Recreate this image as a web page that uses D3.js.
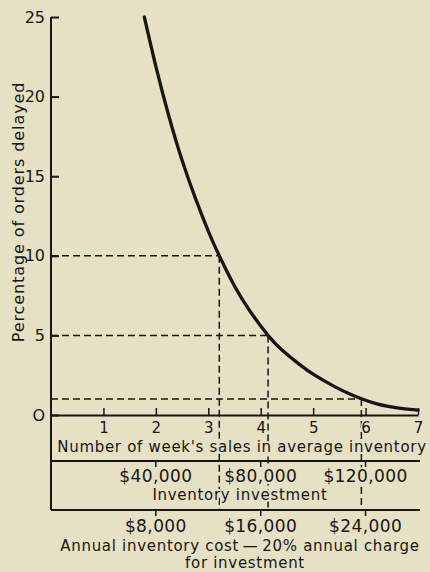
<!DOCTYPE html>
<html>
<head>
<meta charset="utf-8">
<script src="https://cdn.jsdelivr.net/npm/d3@7"></script>
<style>
  html, body { margin: 0; padding: 0; background: #e6e0c5; }
  svg { display: block; }
  text { font-family: "DejaVu Sans", sans-serif; fill: #161616; }
</style>
</head>
<body>
<div id="chart"></div>
<script>
// Delay curve: percentage of orders delayed vs. weeks of sales held in inventory
const weeks = [1.78, 2.0, 2.25, 2.5, 2.75, 3.0, 3.21, 3.5, 3.8, 4.14, 4.4, 4.75, 5.03, 5.4, 5.7, 5.92, 6.2, 6.46, 6.75, 7.0];
const delayed = [25.0, 21.9, 18.75, 16.0, 13.65, 11.55, 10.0, 8.1, 6.5, 5.0, 4.1, 3.15, 2.5, 1.8, 1.32, 1.02, 0.71, 0.52, 0.38, 0.3];

// Reference levels read across to the curve and down to the cost scales
const refLevels = [10, 5, 1];
const refWeeks = [3.21, 4.14, 5.92];

// Axis ticks
const yTicks = [0, 5, 10, 15, 20, 25];
const yTickLabels = ["O", "5", "10", "15", "20", "25"];
const xTicks = [1, 2, 3, 4, 5, 6, 7];

// Money scales beneath the week axis (same week positions)
const investWeeks = [2, 4, 6];
const investLabels = ["$40,000", "$80,000", "$120,000"];
const costWeeks = [2, 4, 6];
const costLabels = ["$8,000", "$16,000", "$24,000"];

// Text
const yTitle = "Percentage of orders delayed";
const xTitle = "Number of week's sales in average inventory";
const investTitle = "Inventory investment";
const costTitle1 = "Annual inventory cost\u2009\u2014\u200920% annual charge";
const costTitle2 = "for investment";

const W = 430, H = 572;
const bg = "#e6e0c5";
const ink = "#161616";

const svg = d3.select("#chart").append("svg")
  .attr("width", W).attr("height", H);

svg.append("rect").attr("width", W).attr("height", H).attr("fill", bg);

const x = d3.scaleLinear().domain([0, 7]).range([51, 418]);
const y = d3.scaleLinear().domain([0, 25]).range([415, 17]);

const band1 = 461;   // line under the week-axis title
const band2 = 510;   // line under the investment scale
const bandRight = 420;

// dashed reference lines
const dash = svg.append("g")
  .attr("stroke", ink).attr("stroke-width", 1.5)
  .attr("stroke-dasharray", "7,4").attr("fill", "none");
refLevels.forEach((lv, i) => {
  dash.append("line")
    .attr("x1", x(0)).attr("x2", x(refWeeks[i]))
    .attr("y1", y(lv)).attr("y2", y(lv));
  dash.append("line")
    .attr("x1", x(refWeeks[i])).attr("x2", x(refWeeks[i]))
    .attr("y1", y(lv)).attr("y2", band2);
});

// the curve
const pts = weeks.map((w, i) => [w, delayed[i]]);
svg.append("path")
  .datum(pts)
  .attr("fill", "none")
  .attr("stroke", ink)
  .attr("stroke-width", 3.3)
  .attr("stroke-linecap", "round")
  .attr("d", d3.line().x(d => x(d[0])).y(d => y(d[1])).curve(d3.curveNatural));

// y axis: ticks pointing inward
const yAxis = d3.axisLeft(y)
  .tickValues(yTicks)
  .tickFormat((d, i) => yTickLabels[i])
  .tickSizeInner(-8).tickSizeOuter(0).tickPadding(6);
const gy = svg.append("g").attr("transform", `translate(${x(0)},0)`).call(yAxis);
gy.select(".domain").remove();
gy.selectAll(".tick line").attr("stroke", ink).attr("stroke-width", 2);
gy.selectAll(".tick text").attr("font-size", 16).attr("fill", ink)
  .attr("font-family", "DejaVu Sans, sans-serif");

// left frame line running down through the cost bands
svg.append("line")
  .attr("x1", x(0)).attr("x2", x(0))
  .attr("y1", y(25)).attr("y2", band2)
  .attr("stroke", ink).attr("stroke-width", 2);

// x axis: week ticks pointing up
const xAxis = d3.axisBottom(x)
  .tickValues(xTicks)
  .tickFormat(d3.format("d"))
  .tickSizeInner(-7).tickSizeOuter(0).tickPadding(7);
const gx = svg.append("g").attr("transform", `translate(0,${y(0)})`).call(xAxis);
gx.select(".domain").attr("stroke", ink).attr("stroke-width", 2);
gx.selectAll(".tick line").attr("stroke", ink).attr("stroke-width", 1.5);
gx.selectAll(".tick text").attr("font-size", 15).attr("fill", ink)
  .attr("font-family", "DejaVu Sans, sans-serif")
  .attr("stroke", bg).attr("stroke-width", 3).attr("paint-order", "stroke");

// band lines
[band1, band2].forEach(b => {
  svg.append("line")
    .attr("x1", x(0)).attr("x2", bandRight)
    .attr("y1", b).attr("y2", b)
    .attr("stroke", ink).attr("stroke-width", 2);
});

// small tick marks on the money scales
const tickG = svg.append("g").attr("stroke", ink).attr("stroke-width", 1.5);
investWeeks.forEach(w => tickG.append("line")
  .attr("x1", x(w)).attr("x2", x(w)).attr("y1", band1).attr("y2", band1 + 6));
costWeeks.forEach(w => tickG.append("line")
  .attr("x1", x(w)).attr("x2", x(w)).attr("y1", band2).attr("y2", band2 + 6));

// text with a background halo so dashes stop at the lettering
function label(txt, px, py, size, spacing) {
  return svg.append("text")
    .attr("x", px).attr("y", py)
    .attr("font-size", size)
    .attr("letter-spacing", spacing)
    .attr("text-anchor", "middle")
    .attr("stroke", bg).attr("stroke-width", 4)
    .attr("paint-order", "stroke")
    .attr("stroke-linejoin", "round")
    .text(txt);
}

label(xTitle, 242, 451.5, 15, 0.7);
investLabels.forEach((t, i) => label(t, x(investWeeks[i]), 482, 17, 0.4));
label(investTitle, 240, 500, 15, 0.7);
costLabels.forEach((t, i) => label(t, x(costWeeks[i]), 532, 17, 0.4));
label(costTitle1, 240, 551, 15, 0.7);
label(costTitle2, 245, 568, 15, 0.7);

// y title
svg.append("text")
  .attr("transform", `translate(24,${212}) rotate(-90)`)
  .attr("text-anchor", "middle")
  .attr("font-size", 16)
  .attr("letter-spacing", 0.9)
  .text(yTitle);
</script>
</body>
</html>
